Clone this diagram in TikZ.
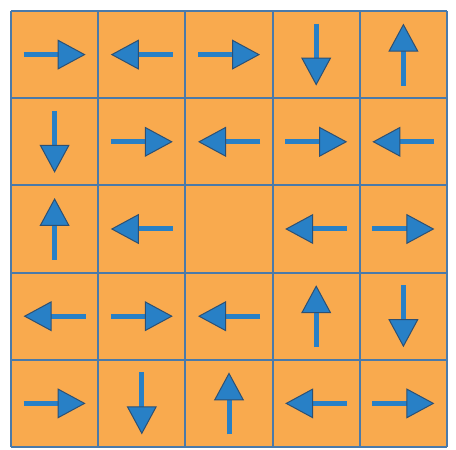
\documentclass[tikz,border=0pt]{standalone}
\usetikzlibrary{arrows.meta}
\definecolor{cellorange}{RGB}{249,170,78}
\definecolor{gridblue}{RGB}{74,122,170}
\definecolor{arrowblue}{RGB}{40,128,198}
\definecolor{tipedge}{RGB}{45,80,115}

\begin{document}
\begin{tikzpicture}[x=1pt,y=1pt,
  gridline/.style={gridblue,line width=2pt},
  dirarrow/.style={arrowblue,line width=5pt,
    -{Triangle[length=28pt,width=30pt,line width=1pt,color=tipedge,fill=arrowblue]}}]
  \useasboundingbox (0,0) rectangle (456,450);
  \fill[cellorange] (11,3) rectangle (447,439);
  \foreach \k in {0,...,5} {
    \draw[gridline] (11+87.2*\k,3) -- (11+87.2*\k,439);
    \draw[gridline] (11,3+87.2*\k) -- (447,3+87.2*\k);
  }

  % column/row/direction, the middle cell stays empty
  \foreach \c/\r/\a in {0/0/0, 1/0/180, 2/0/0, 3/0/270, 4/0/90,
                        0/1/270, 1/1/0, 2/1/180, 3/1/0, 4/1/180,
                        0/2/90, 1/2/180, 3/2/180, 4/2/0,
                        0/3/180, 1/3/0, 2/3/180, 3/3/90, 4/3/270,
                        0/4/0, 1/4/270, 2/4/90, 3/4/180, 4/4/0}
    \draw[dirarrow] (54.6+87.2*\c,395.4-87.2*\r) ++(\a+180:31) -- ++(\a:62);
\end{tikzpicture}
\end{document}
